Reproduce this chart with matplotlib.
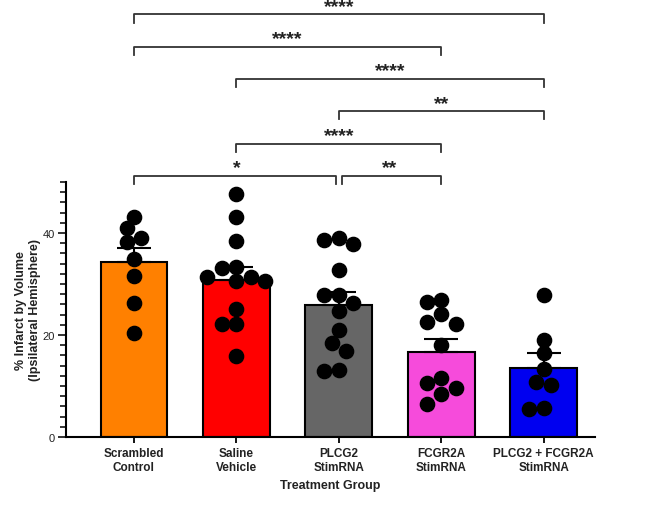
import matplotlib.pyplot as plt
import numpy as np

plt.rcParams['font.family'] = ['Liberation Sans', 'DejaVu Sans']

groups = ['Scrambled\nControl', 'Saline\nVehicle', 'PLCG2\nStimRNA',
          'FCGR2A\nStimRNA', 'PLCG2 + FCGR2A\nStimRNA']
colors = ['#FF8000', '#FF0000', '#666666', '#F64BDB', '#0000F0']

scrambled = [43.2, 40.9, 38.2, 39.0, 34.8, 31.5, 26.2, 20.4]
saline = [47.6, 43.1, 38.5, 33.1, 33.4, 31.4, 30.5, 30.5, 30.5, 31.4,
          25.1, 22.2, 22.2, 15.9]
plcg2 = [38.6, 37.8, 39.0, 32.7, 27.8, 27.9, 26.2, 24.8, 21.0, 18.5,
         16.8, 12.9, 13.2]
fcgr2a = [26.4, 26.9, 24.1, 22.2, 22.6, 18.0, 11.5, 9.7, 10.6, 8.4, 6.4]
combo = [27.9, 19.1, 16.4, 13.3, 10.2, 10.7, 5.4, 5.7]
points = [scrambled, saline, plcg2, fcgr2a, combo]

means = [34.3, 30.8, 25.9, 16.7, 13.5]
sems = [2.8, 2.5, 2.6, 2.6, 2.9]

# comparisons: (group a, group b, label), bottom to top
comparisons = [(0, 2, '*'), (2, 3, '**'), (1, 3, '****'),
               (2, 4, '**'), (1, 4, '****'), (0, 3, '****'), (0, 4, '****')]
levels = [0, 0, 1, 2, 3, 4, 5]

fig = plt.figure(figsize=(6.45, 5.06), dpi=100)
ax = fig.add_axes([0.1023, 0.1344, 0.820, 0.504])
x = np.arange(len(groups))
ax.set_xlim(-0.663, 4.5)
ax.set_ylim(0, 50)

ax.bar(x, means, width=0.65, color=colors, edgecolor='black', linewidth=1.5, zorder=2)
ax.errorbar(x, means, yerr=[np.zeros(len(means)), sems], fmt='none', ecolor='black',
            elinewidth=1.5, capsize=12, capthick=1.5, zorder=3)

# simple swarm layout in pixel space
fig.canvas.draw()
px_x = ax.transData.transform([(1, 0)])[0][0] - ax.transData.transform([(0, 0)])[0][0]
px_y = ax.transData.transform([(0, 1)])[0][1] - ax.transData.transform([(0, 0)])[0][1]
step = 14.5
diam = 13.5
cands = [0, -0.5, 0.5, -1, 1, -1.5, 1.5, -2, 2, -2.5, 2.5]
for i, vals in enumerate(points):
    placed = []
    for v in sorted(vals, reverse=True):
        for k in cands:
            ok = True
            for (ox, oy) in placed:
                if np.hypot(k * step - ox, (v - oy) * px_y) < diam:
                    ok = False
                    break
            if ok:
                placed.append((k * step, v))
                break
    xs = [i + ox / px_x for ox, _ in placed]
    ys = [oy for _, oy in placed]
    ax.scatter(xs, ys, s=105, color='black', zorder=4, clip_on=False)

# significance brackets
base = 51.2
gap = 6.33
drop = 1.6
for (a, b, lab), lv in zip(comparisons, levels):
    yb = base + lv * gap
    xa, xb = x[a], x[b]
    if lv == 0 and a == 0:
        xb = xb - 0.03
    if lv == 0 and a == 2:
        xa = xa + 0.03
    ax.plot([xa, xa, xb, xb], [yb - drop, yb, yb, yb - drop], color='#333333',
            lw=1.3, clip_on=False)
    ax.text((x[a] + x[b]) / 2, yb + 0.7, lab, ha='center', va='baseline',
            fontsize=14, fontweight='bold', color='#222222', clip_on=False)

for s in ['top', 'right']:
    ax.spines[s].set_visible(False)
ax.spines['left'].set_linewidth(1.5)
ax.spines['bottom'].set_linewidth(1.5)

ax.set_yticks([0, 20, 40])
ax.set_yticks(np.arange(0, 51, 2), minor=True)
ax.tick_params(axis='y', which='major', length=6, width=1.3, labelsize=8,
               colors='#222222', pad=2)
ax.tick_params(axis='y', which='minor', length=4, width=1.1)
ax.set_xticks(x)
ax.set_xticklabels(groups, fontsize=8.5, fontweight='bold', color='#222222')
ax.tick_params(axis='x', length=4, width=1.3, pad=3)

ax.set_ylabel('% Infarct by Volume\n(Ipsilateral Hemisphere)', fontsize=9,
              fontweight='bold', color='#222222', labelpad=1)
ax.set_xlabel('Treatment Group', fontsize=9, fontweight='bold', color='#222222', labelpad=5)

fig.savefig('out.png', dpi=100)
